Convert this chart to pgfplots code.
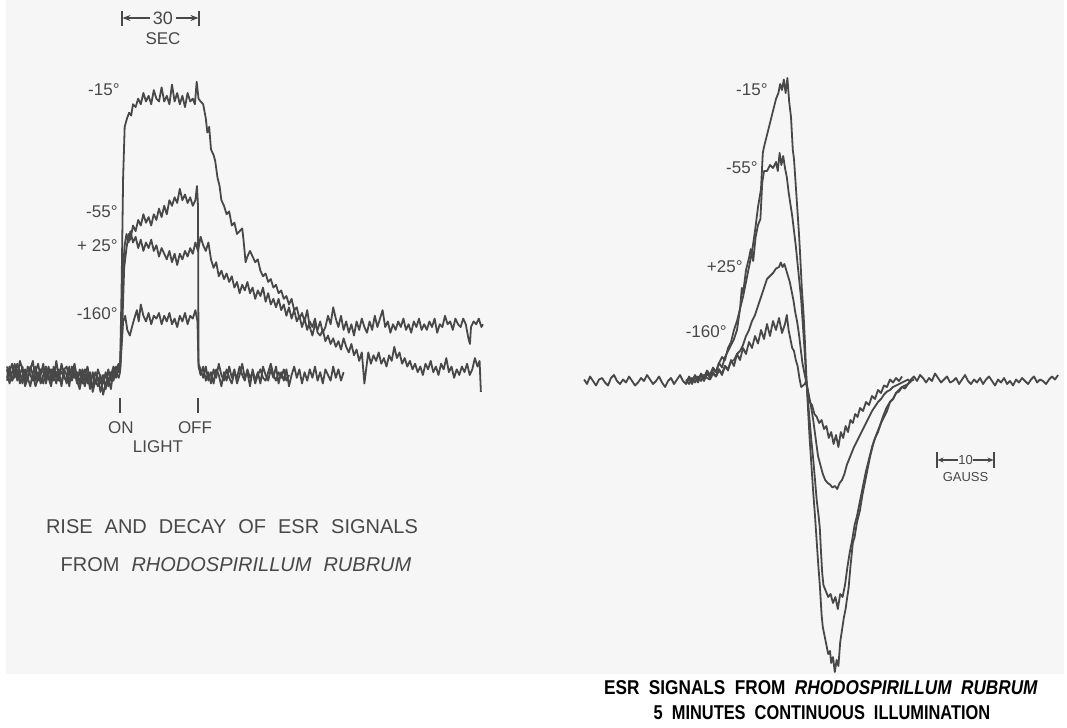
\documentclass[border=0pt]{standalone}
\usepackage{fontspec}
\setmainfont{Liberation Sans}
\usepackage{pgfplots}
\pgfplotsset{compat=1.18}
\usetikzlibrary{arrows.meta}
\definecolor{ink}{RGB}{72,72,72}
\definecolor{paper}{RGB}{246,246,246}
\pgfplotsset{tracestyle/.style={axis lines=none,clip=false,scale only axis,anchor=south west},
  trace/.style={ink,line width=0.9pt,line join=round,mark=none}}
\begin{document}
\begin{tikzpicture}
\begin{scope}[x=0.5pt,y=-0.5pt]
\path[use as bounding box] (0,0) rectangle (1067,728);
\fill[paper] (6,0) rectangle (1064,674);
\end{scope}
% ---------------- LEFT: time course (t in s, 0 = light on; signal in % of -15 plateau)
\begin{axis}[tracestyle,at={(0pt,-260pt)},width=260pt,height=260pt,
  xmin=-46.154,xmax=153.846,ymin=-51.418,ymax=132.979]
% -15
\addplot[trace] coordinates {(-43.5,2)(-42.5,-3)(-41.5,1)(-40.5,4)(-39.5,-2)(-38.5,0)(-37.5,3)(-36.5,-4)(-35.5,-1)(-34.5,2)(-33.5,5)(-32.5,-2)(-31.5,1)(-30.5,-3)(-29.5,0)(-28.5,3)(-27.5,-1)(-26.5,-4)(-25.5,2)(-24.5,1)(-23.5,-2)(-22.5,4)(-21.5,0)(-20.5,-3)(-19.5,1)(-18.5,-1)(-17.5,3)(-16.5,-2)(-15.5,-5)(-14.5,0)(-13.5,2)(-12.5,-3)(-11.5,1)(-10.5,-6)(-9.5,-2)(-8.5,-4)(-7.5,0)(-6.5,-7)(-5.5,-3)(-4.5,-1)(-3.5,-5)(-2.5,2)(-1.5,-1)(-0.5,3)
(0,1)(0.6,30)(1.2,70)(1.8,88)(2.7,91)(3.5,93)(4.3,92)(5,96)(6,95)(7,98)(8,96)(9,100)(10,97)(11,99)(12,96)(13,101)(14,98)(15,97)(16,102)(17,97)(18,99)(19,96)(20,103)(21,97)(22,100)(23,96)(24,99)(25,95)(26,100)(27,97)(28,98)(28.8,96)(29.5,104)(30.2,98)(31,97)(32,96)
(33,91)(33.6,86)(34.3,88)(35,80)(36,78)(36.6,76)(37.5,70)(38.3,67)(39,62)(40,60)(41,57)(42,58)(43,53)(44,54)(45,50)(46,51)(47,52)(47.5,48)(48.3,40)(49,42)(50,44)(51,42)(52,40)(53,41)(54,37)(55,35)(56,36)(57,33)(58,34)(59,31)(60,32)(61,29)(62,30)(63,27)(64,28)(65,25)(66,27)(67,23)(68,24)(69,20)(70,22)(71,19)(72,23)(73,17)(74,14)(75,18)(76,16)(77,19)(78,15)(79,17)(80,21)(81,18)(82,24)(83,20)(84,17)(85,21)(86,16)(87,19)(88,15)(89,18)(90,14)(91,19)(92,16)(93,20)(94,17)(95,15)(96,19)(97,16)(98,21)(99,17)(100,20)(101,23)(102,17)(103,19)(104,15)(105,18)(106,16)(107,19)(108,17)(109,20)(110,16)(111,18)(112,15)(113,19)(114,17)(115,20)(116,16)(117,18)(118,16)(119,19)(120,17)(121,20)(122,15)(123,18)(124,17)(125,21)(126,18)(127,19)(128,16)(129,20)(130,18)(131,17)(132,20)(133,18)(134,13)(134.6,11)(135,17)(136,19)(137,18)(138,20)(139,17)(139.6,18)};
% +25
\addplot[trace] coordinates {(-43.5,-1)(-42.5,3)(-41.5,-2)(-40.5,0)(-39.5,4)(-38.5,1)(-37.5,-3)(-36.5,2)(-35.5,-1)(-34.5,-4)(-33.5,1)(-32.5,3)(-31.5,-2)(-30.5,0)(-29.5,4)(-28.5,-3)(-27.5,1)(-26.5,2)(-25.5,-2)(-24.5,5)(-23.5,-1)(-22.5,-3)(-21.5,2)(-20.5,0)(-19.5,-4)(-18.5,3)(-17.5,-1)(-16.5,1)(-15.5,-3)(-14.5,2)(-13.5,-2)(-12.5,0)(-11.5,-5)(-10.5,1)(-9.5,-3)(-8.5,-1)(-7.5,-6)(-6.5,-2)(-5.5,0)(-4.5,-4)(-3.5,1)(-2.5,-2)(-1.5,2)(-0.5,4)
(0,1)(0.6,18)(1.2,38)(1.8,46)(2.5,50)(3.3,47)(4,51)(5,47)(6,49)(7,45)(8,48)(9,44)(10,47)(11,45)(12,48)(13,44)(14,46)(15,42)(16,45)(17,43)(18,41)(19,44)(20,40)(21,43)(22,39)(23,43)(24,41)(25,44)(26,42)(27,45)(28,43)(29,47)(30,44)(31,49)(32,46)(33,44)(34,47)(35,41)(36,38)(37,40)(38,35)(39,37)(40,34)(41,36)(42,33)(43,35)(44,31)(45,33)(46,29)(47,32)(48,30)(49,33)(50,29)(51,31)(52,27)(53,30)(54,28)(55,31)(56,26)(57,29)(58,25)(59,27)(60,24)(61,27)(62,23)(63,25)(64,21)(65,24)(66,20)(67,23)(68,19)(69,21)(70,17)(71,20)(72,16)(73,19)(74,17)(75,20)(76,15)(77,14)(78,16)(79,12)(80,14)(81,11)(82,13)(83,10)(84,12)(85,9)(86,13)(87,10)(88,8)(89,11)(90,7)(91,9)(92,5)(93,8)(94,-3)(94.8,3)(95.5,8)(96.5,4)(97.5,7)(98.5,5)(99.5,8)(100.5,4)(101.5,6)(102.5,3)(103.5,7)(104.5,5)(105.5,10)(106.5,6)(107.5,8)(108.5,4)(109.5,6)(110.5,3)(111.5,5)(112.5,2)(113.5,4)(114.5,1)(115.5,3)(116.5,0)(117.5,4)(118.5,2)(119.5,5)(120.5,1)(121.5,3)(122.5,0)(123.5,4)(124.5,2)(125.5,6)(126.5,1)(127.5,3)(128.5,-1)(129.5,2)(130.5,0)(131.5,3)(132.5,1)(133.5,4)(134.5,0)(135.5,2)(136.5,6)(137.5,3)(138.3,5)(138.8,-6)};
% -55
\addplot[trace] coordinates {(-43.5,3)(-42.5,0)(-41.5,-2)(-40.5,2)(-39.5,-1)(-38.5,5)(-37.5,2)(-36.5,-3)(-35.5,3)(-34.5,0)(-33.5,-2)(-32.5,1)(-31.5,4)(-30.5,-1)(-29.5,-3)(-28.5,2)(-27.5,0)(-26.5,-2)(-25.5,3)(-24.5,-1)(-23.5,1)(-22.5,-4)(-21.5,2)(-20.5,3)(-19.5,-2)(-18.5,0)(-17.5,4)(-16.5,-1)(-15.5,1)(-14.5,-3)(-13.5,0)(-12.5,3)(-11.5,-2)(-10.5,-4)(-9.5,1)(-8.5,-1)(-7.5,-3)(-6.5,0)(-5.5,-5)(-4.5,2)(-3.5,-2)(-2.5,0)(-1.5,3)(-0.5,1)
(0,2)(0.8,15)(1.6,38)(2.5,45)(3.3,50)(4,48)(5,53)(6,51)(7,55)(8,53)(9,57)(10,54)(11,56)(12,53)(13,57)(14,55)(15,59)(16,56)(17,60)(18,57)(19,62)(20,60)(21,63)(22,61)(23,66)(24,62)(25,64)(26,61)(27,63)(28,60)(29,62)(29.6,67)(30,60)(30.2,4)
(31,2)(32,-1)(33,3)(34,-2)(35,1)(36,-3)(37,2)(38,0)(39,-4)(40,1)(41,-2)(42,3)(43,-1)(44,2)(45,-3)(46,0)(47,4)(48,-1)(49,1)(50,-4)(51,2)(52,-2)(53,1)(54,-3)(55,3)(56,0)(57,-2)(58,2)(59,-1)(60,3)(61,-3)(62,1)(63,-2)(64,2)(65,-4)(66,0)(67,3)(68,-1)(69,2)(70,-3)(71,1)(72,-2)(73,2)(74,-1)(75,3)(76,-2)(77,1)(78,-3)(79,2)(80,0)(81,-2)(82,3)(83,-1)(84,2)(85,-2)(86,1)};
% -160
\addplot[trace] coordinates {(-43.5,-2)(-42.5,1)(-41.5,4)(-40.5,-1)(-39.5,2)(-38.5,-3)(-37.5,0)(-36.5,1)(-35.5,-2)(-34.5,3)(-33.5,0)(-32.5,-4)(-31.5,-1)(-30.5,2)(-29.5,1)(-28.5,-2)(-27.5,3)(-26.5,-1)(-25.5,0)(-24.5,-3)(-23.5,2)(-22.5,1)(-21.5,-1)(-20.5,-2)(-19.5,3)(-18.5,-2)(-17.5,1)(-16.5,-3)(-15.5,2)(-14.5,-1)(-13.5,-4)(-12.5,1)(-11.5,-2)(-10.5,0)(-9.5,-3)(-8.5,2)(-7.5,-1)(-6.5,-3)(-5.5,1)(-4.5,-2)(-3.5,0)(-2.5,3)(-1.5,1)(-0.5,-1)
(0,1)(0.6,10)(1.2,19)(2,21)(2.8,16)(3.8,14)(4.6,17)(5.5,20)(6.5,23)(7.2,19)(8,25)(9,21)(10,19)(11,22)(12,18)(13,21)(14,20)(15,22)(16,18)(17,21)(18,19)(19,22)(20,18)(21,20)(22,17)(23,21)(24,19)(25,22)(26,18)(27,21)(28,20)(29,23)(29.8,19)(30.2,3)
(31,0)(32,3)(33,-2)(34,1)(35,-3)(36,2)(37,-1)(38,4)(39,0)(40,-2)(41,2)(42,-1)(43,-3)(44,1)(45,-1)(46,3)(47,0)(48,-2)(49,2)(50,-1)(51,1)(52,-3)(53,0)(54,2)(55,-1)(56,-2)(57,1)(58,4)(59,0)(60,-2)(61,1)(62,-1)(63,2)(64,-2)(65,0)};
\end{axis}
% ---------------- RIGHT: spectra (field in gauss from centre; signal)
\begin{axis}[tracestyle,at={(280pt,-350pt)},width=253.5pt,height=350pt,
  xmin=-41,xmax=43.5,ymin=-106.333,ymax=127]
% -15
\addplot[trace] coordinates {(-37,0.5)(-36.5,-1)(-36,1.5)(-35.5,0)(-35,-1.5)(-34.5,0.5)(-34,1)(-33.5,-0.5)(-33,-1.5)(-32.5,1)(-32,2)(-31.5,0)(-31,-1)(-30.5,0.5)(-30,-0.5)(-29.5,1.5)(-29,0)(-28.5,-1.5)(-28,-0.5)(-27.5,1)(-27,0)(-26.5,2)(-26,0.5)(-25.5,-1)(-25,0)(-24.5,1.5)(-24,-0.5)(-23.5,-2)(-23,0)(-22.5,1)(-22,-1)(-21.5,0.5)(-21,2)(-20.5,0)(-20,-1)(-19.5,1)(-19,0)(-18.5,1.5)(-18,0.5)(-17.5,2)(-17,1)
(-16.5,3)(-16,2)(-15.5,4.5)(-15,3)(-14.5,6)(-14,8)(-13.5,7)(-13,11)(-12.5,13)(-12,17)(-11.5,20)(-11,24)(-10.5,28)(-10,33)(-9.5,38)(-9,43)(-8.5,50)(-8,58)(-7.5,64)(-7.2,76)(-7,78)(-6.5,82)(-6,86)(-5.5,90)(-5,94)(-4.6,96)(-4.3,99)(-4,97)(-3.7,100.5)(-3.4,96)(-3.1,101)(-2.8,93)(-2.5,88)(-2.2,77)(-2,74)(-1.7,65)(-1.5,59)(-1.2,50)(-1,43)(-0.7,31)(-0.4,22)(-0.2,14)(0,4)
(0.3,-8)(0.6,-19)(0.9,-28)(1.2,-37)(1.5,-45)(1.8,-54)(2,-60)(2.3,-68)(2.6,-78)(2.8,-82)(3.1,-85)(3.4,-88)(3.7,-91)(4,-90)(4.2,-94)(4.5,-92)(4.8,-97)(5.1,-93)(5.4,-95)(5.7,-87)(6,-83)(6.3,-79)(6.6,-76)(6.8,-73)(7.1,-69)(7.4,-62)(7.8,-54)(8.1,-52)(8.5,-47)(9,-43)(9.4,-38)(9.8,-34)(10.3,-29)(10.7,-25)(11.2,-21)(11.7,-18)(12.3,-15)(12.8,-12)(13.4,-9)(14,-7)(14.5,-6)(15,-4)(15.5,-3.5)(16,-2)(16.5,-2.5)(17,-1)
(17.5,0.5)(18,1.5)(18.5,0)(19,2)(19.5,1)(20,-0.5)(20.5,1)(21,0)(21.5,2.5)(22,1)(22.5,-0.5)(23,0.5)(23.5,1.5)(24,-0.5)(24.5,0)(25,1)(25.5,-1)(26,0.5)(26.5,2)(27,0)(27.5,-1)(28,0.5)(28.5,-0.5)(29,1)(29.5,-1)(30,0.5)(30.5,1.5)(31,0)(31.5,-1.5)(32,0.5)(32.5,-0.5)(33,1)(33.5,-1)(34,0)(34.5,-1.5)(35,0.5)(35.5,-0.5)(36,1)(36.5,0)(37,-1)(37.5,0.5)(38,1.5)(38.5,-0.5)(39,0.5)(39.5,0)(40,-1)(40.5,0.5)(41,1.5)(41.5,0.5)(42,2)};
% -55
\addplot[trace] coordinates {(-20,-1)(-19.5,1.5)(-19,0)(-18.5,2)(-18,0)(-17.5,2.5)(-17,1)(-16.5,3.5)(-16,2)(-15.5,4)(-15,3)(-14.5,6)(-14,4.5)(-13.5,8)(-13,10)(-12.5,12)(-12,14)(-11.5,17)(-11,24)(-10.7,31)(-10.5,29)(-10,37)(-9.5,41)(-9.2,44)(-8.8,40)(-8.4,48)(-8,52)(-7.6,54)(-7.3,66)(-7,70)(-6.5,70)(-6,72)(-5.5,71)(-5,73)(-4.7,70)(-4.4,76)(-4.1,72)(-3.8,75)(-3.5,71)(-3.2,68)(-2.9,63)(-2.6,59)(-2.3,55)(-2,50)(-1.7,45)(-1.4,39)(-1.1,33)(-0.8,27)(-0.5,18)(-0.2,9)(0,2)
(0.3,-6)(0.6,-13)(0.9,-20)(1.2,-26)(1.5,-33)(1.8,-40)(2.1,-45)(2.3,-49)(2.5,-57)(2.7,-64)(2.9,-68)(3.3,-70)(3.7,-72)(4.1,-71)(4.5,-74)(4.9,-72)(5.3,-76)(5.7,-71)(6.1,-72)(6.5,-68)(6.9,-62)(7.3,-57)(7.7,-53)(8.1,-48)(8.5,-45)(9,-40)(9.5,-35)(10,-30)(10.5,-26)(11,-22)(11.5,-19)(12,-17)(12.5,-14)(13,-12)(13.5,-10)(14,-7)(14.5,-6)(15,-4)(15.5,-3)(16,-2)(16.5,-1.5)(17,-1)(17.5,0)(18,0.5)};
% +25
\addplot[trace] coordinates {(-20,0.5)(-19.5,-1)(-19,1)(-18.5,-0.5)(-18,1.5)(-17.5,0)(-17,2)(-16.5,1)(-16,0.5)(-15.5,2.5)(-15,1.5)(-14.5,3.5)(-14,2.5)(-13.5,5)(-13,4)(-12.5,6.5)(-12,7)(-11.5,9)(-11,10)(-10.5,12)(-10,15)(-9.5,17)(-9,20)(-8.5,22)(-8,25)(-7.5,28)(-7,31)(-6.5,34)(-6,35)(-5.5,36)(-5,37.5)(-4.5,38)(-4.2,39.5)(-3.9,38)(-3.6,39)(-3.3,37)(-3,35)(-2.7,33)(-2.4,30)(-2.1,27)(-1.8,23)(-1.5,20)(-1.2,16)(-0.9,11)(-0.6,6)(-0.3,3)(0,0)
(0.4,-4)(0.8,-8)(1.2,-13)(1.6,-19)(2,-25)(2.4,-28)(2.8,-31)(3.2,-33)(3.6,-34)(4,-34.5)(4.4,-35.5)(4.8,-35)(5.2,-36)(5.6,-34)(6,-33)(6.4,-31)(6.8,-28)(7.2,-26)(7.6,-24)(8,-22)(8.5,-20)(9,-18)(9.5,-16)(10,-14)(10.5,-12)(11,-10)(11.5,-8.5)(12,-7)(12.5,-6)(13,-4.5)(13.5,-3.5)(14,-3)(14.5,-2)(15,-1.5)(15.5,-1)(16,-0.5)(16.5,0)(17,0.5)(17.5,-0.5)};
% -160
\addplot[trace] coordinates {(-20,-0.5)(-19.5,1)(-19,-1)(-18.5,1.5)(-18,-0.5)(-17.5,2)(-17,0)(-16.5,2.5)(-16,1)(-15.5,3)(-15,1.5)(-14.5,4)(-14,2)(-13.5,5)(-13,3.5)(-12.5,7)(-12,5)(-11.5,9)(-11,7)(-10.5,11)(-10,9)(-9.5,13)(-9,11)(-8.5,15)(-8,12.5)(-7.5,17)(-7,14)(-6.5,19)(-6,15)(-5.5,20)(-5,17)(-4.5,21)(-4,16)(-3.5,19)(-3.2,22)(-2.9,17)(-2.6,14)(-2.3,11)(-2,10)(-1.7,7)(-1.4,5)(-1.1,1)(-0.8,-2)(-0.5,-1.5)(-0.2,-1)(0,0)
(0.3,-3)(0.6,-7)(1,-8)(1.4,-11)(1.8,-12)(2.2,-14)(2.6,-13)(3,-16)(3.4,-15)(3.8,-19)(4.2,-17)(4.6,-21)(5,-18)(5.4,-22)(5.8,-17)(6.2,-19)(6.6,-15)(7,-17)(7.4,-13)(7.8,-14)(8.2,-11)(8.6,-12)(9,-9)(9.5,-10)(10,-7)(10.5,-8)(11,-5)(11.5,-6)(12,-3)(12.5,-4)(13,-1.5)(13.5,-2)(14,0.5)(14.5,-0.5)(15,1)(15.5,0)(16,1.5)};
\end{axis}
% ---------------- annotations (pixel frame)
\begin{scope}[x=0.5pt,y=-0.5pt]
\begin{scope}[ink,line width=0.7pt]
\draw (122,11) -- (122,26);
\draw (199,11) -- (199,26);
\draw[-{Stealth[length=4pt,width=3pt]}] (150,18) -- (122.5,18);
\draw[-{Stealth[length=4pt,width=3pt]}] (176,18) -- (198.5,18);
\draw (120,398) -- (120,413);
\draw (198,398) -- (198,413);
\draw (937,452) -- (937,468);
\draw (994,452) -- (994,468);
\draw[-{Stealth[length=3pt,width=2.5pt]}] (958,460) -- (937.5,460);
\draw[-{Stealth[length=3pt,width=2.5pt]}] (973,460) -- (993.5,460);
\end{scope}
\begin{scope}[every node/.style={text=ink,inner sep=0pt,font=\fontsize{8.5}{10}\selectfont}]
\node at (163,18) {\fontsize{9}{10}\selectfont 30};
\node at (163,39) {SEC};
\node[anchor=east] at (120,90) {-15°};
\node[anchor=east] at (118,212) {-55°};
\node[anchor=east] at (118,246) {+ 25°};
\node[anchor=east] at (118,314) {-160°};
\node at (121,428) {ON};
\node at (195,428) {OFF};
\node at (158,447) {LIGHT};
\node[anchor=east] at (768,90) {-15°};
\node[anchor=east] at (758,168) {-55°};
\node[anchor=east] at (743,267) {+25°};
\node[anchor=east] at (727,332) {-160°};
\node at (965.5,460) {\fontsize{6.5}{7}\selectfont 10};
\node at (965.5,477) {\fontsize{6.5}{7}\selectfont GAUSS};
\node at (232,527) {\fontsize{10}{12}\selectfont\spaceskip=0.6em RISE AND DECAY OF ESR SIGNALS};
\node at (236,565) {\fontsize{10}{12}\selectfont\spaceskip=0.6em FROM \textit{RHODOSPIRILLUM RUBRUM}};
\end{scope}
\node[inner sep=0pt,text=black] at (821,688) {\scalebox{0.86}[1]{\fontsize{10}{12}\selectfont\bfseries\spaceskip=0.55em ESR SIGNALS FROM \textit{RHODOSPIRILLUM RUBRUM}}};
\node[inner sep=0pt,text=black] at (822,713) {\scalebox{0.82}[1]{\fontsize{10}{12}\selectfont\bfseries\spaceskip=0.55em 5 MINUTES CONTINUOUS ILLUMINATION}};
\end{scope}
\end{tikzpicture}
\end{document}
